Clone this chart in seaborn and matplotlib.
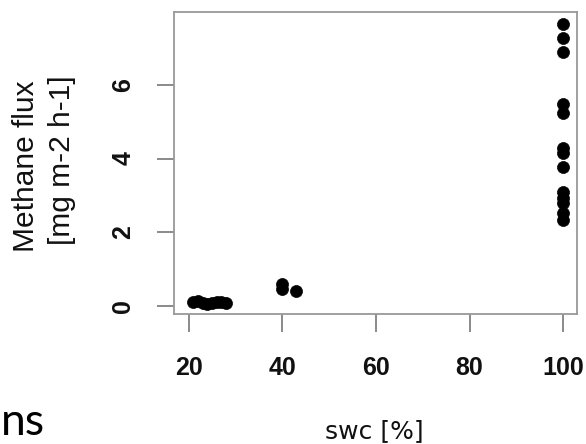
import matplotlib
matplotlib.use("Agg")
import matplotlib.pyplot as plt
import seaborn as sns
import pandas as pd

# Soil water content (%) and methane flux (mg m-2 h-1)
swc_low = [21, 22, 23, 24, 25, 26, 27, 28]
flux_low = [0.10, 0.12, 0.08, 0.05, 0.07, 0.10, 0.09, 0.08]
swc_mid = [40, 40, 43]
flux_mid = [0.58, 0.45, 0.40]
swc_high = [100] * 13
flux_high = [7.66, 7.27, 6.88, 5.48, 5.25, 4.28, 4.14, 3.76,
             3.08, 2.92, 2.79, 2.52, 2.33]

x_ticks = [20, 40, 60, 80, 100]
y_ticks = [0, 2, 4, 6]

df = pd.DataFrame({
    "swc": swc_low + swc_mid + swc_high,
    "flux": flux_low + flux_mid + flux_high,
})

sns.set_style("ticks")
plt.rcParams["font.family"] = ["Liberation Sans", "DejaVu Sans"]

fig = plt.figure(figsize=(5.86, 4.44), dpi=100)
ax = fig.add_axes([0.297, 0.293, 0.688, 0.680])

sns.scatterplot(data=df, x="swc", y="flux", ax=ax, color="black",
                s=75, edgecolor="black", linewidth=0.5, legend=False)

ax.set_xlim(16.9, 103.0)
ax.set_ylim(-0.22, 7.98)
ax.set_xticks(x_ticks)
ax.set_yticks(y_ticks)
ax.set_xticklabels([str(v) for v in x_ticks], fontsize=18, fontweight="bold",
                   color="#111111")
ax.set_yticklabels([str(v) for v in y_ticks], fontsize=18, fontweight="bold",
                   rotation=90, va="center", color="#111111")

for sp in ax.spines.values():
    sp.set_color("#999999")
    sp.set_linewidth(1.3)
ax.tick_params(axis="x", length=13, width=1.4, color="#8a8a8a", pad=17)
ax.tick_params(axis="y", length=12, width=1.4, color="#8a8a8a", pad=16)

ax.set_xlabel("")
ax.set_ylabel("")

fig.text(26 / 586, 1 - 166 / 444, "Methane flux", rotation=90, ha="center",
         va="center", fontsize=21.5, color="#111111")
fig.text(62 / 586, 1 - 160 / 444, "[mg m-2 h-1]", rotation=90, ha="center",
         va="center", fontsize=21.5, color="#111111")
fig.text(374 / 586, 1 - 438 / 444, "swc [%]", ha="center", va="baseline",
         fontsize=18, color="#111111", family="DejaVu Sans")
fig.text(0.002, 1 - 435 / 444, "ns", ha="left", va="baseline", fontsize=32,
         color="black", family="Lato")

fig.savefig("out.png", dpi=100)
